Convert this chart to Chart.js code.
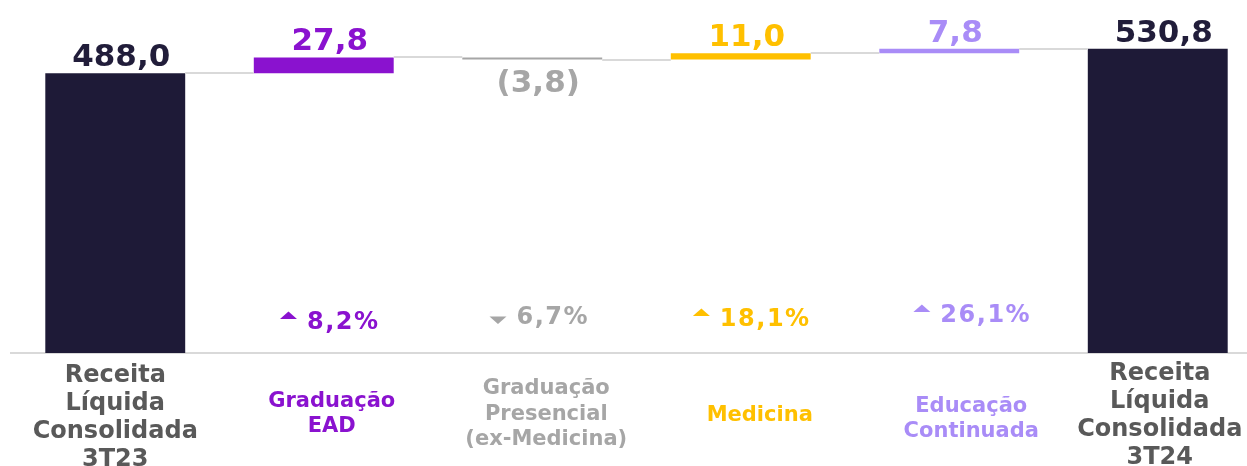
<!DOCTYPE html>
<html>
<head>
<meta charset="utf-8">
<script src="https://cdn.jsdelivr.net/npm/chart.js@4"></script>
<style>
    html, body { margin: 0; padding: 0; background: #fff; overflow: hidden; }
    #wrap { position: relative; width: 1262px; height: 466px; }
</style>
</head>
<body>
<div id="wrap"><canvas id="chart"></canvas></div>
<script>
const categories = [
    ['Receita', 'Líquida', 'Consolidada', '3T23'],
    ['Graduação', 'EAD'],
    ['Graduação', 'Presencial', '(ex-Medicina)'],
    ['Medicina'],
    ['Educação', 'Continuada'],
    ['Receita', 'Líquida', 'Consolidada', '3T24']
];
const changes = [488.0, 27.8, -3.8, 11.0, 7.8, 530.8];
const isTotal = [true, false, false, false, false, true];
const growthPct = [null, 8.2, -6.7, 18.1, 26.1, null];

const NAVY = '#1e1a37';
const barColors = [NAVY, '#8a12cf', '#a6a6a6', '#ffc000', '#a98cf7', NAVY];
const textColors = ['#595959', '#8a12cf', '#a6a6a6', '#ffc000', '#a98cf7', '#595959'];
const FONT = '"DejaVu Sans", Verdana, sans-serif';

// small nudges of the text boxes, like in the original slide
const catDx = [0, 8, 14, 19, 22, 2];
const catDy = [2, -1, -1, 0, 4, 0];
const pctDx = [0, 6, 7, 11, 23, 0];
const pctBase = [0, 329, 324, 326, 322, 0];

// running totals -> floating bars
let running = 0;
const ranges = changes.map(function (v, i) {
    if (isTotal[i]) { running = v; return [0, v]; }
    const start = running;
    running += v;
    return [start, running];
});

const fmt = v => Math.abs(v).toFixed(1).replace('.', ',');

const waterfallText = {
    id: 'waterfallText',
    afterDatasetsDraw(chart) {
        const ctx = chart.ctx;
        const meta = chart.getDatasetMeta(0);
        const y = chart.scales.y;
        ctx.save();

        // connectors between bars
        ctx.strokeStyle = '#d9d9d9';
        ctx.lineWidth = 2;
        for (let i = 0; i < meta.data.length - 1; i++) {
            const a = meta.data[i], b = meta.data[i + 1];
            const py = Math.round(y.getPixelForValue(ranges[i][1]));
            ctx.beginPath();
            ctx.moveTo(a.x + a.width / 2, py);
            ctx.lineTo(b.x - b.width / 2, py);
            ctx.stroke();
        }

        // value labels
        ctx.font = 'bold 31px ' + FONT;
        ctx.textAlign = 'center';
        ctx.textBaseline = 'alphabetic';
        meta.data.forEach(function (bar, i) {
            const v = changes[i];
            const top = y.getPixelForValue(Math.max(ranges[i][0], ranges[i][1]));
            const bottom = y.getPixelForValue(Math.min(ranges[i][0], ranges[i][1]));
            ctx.fillStyle = isTotal[i] ? '#211d3a' : barColors[i];
            if (v < 0) ctx.fillText('(' + fmt(v) + ')', bar.x + 6, bottom + 32);
            else ctx.fillText(fmt(v), bar.x + 6, top - 7);
        });

        // growth percentages with arrows
        ctx.font = 'bold 24px ' + FONT;
        ctx.textAlign = 'left';
        ctx.letterSpacing = '1.5px';
        meta.data.forEach(function (bar, i) {
            const p = growthPct[i];
            if (p === null) return;
            const txt = fmt(p) + '%';
            const w = ctx.measureText(txt).width;
            const groupW = 17 + 10 + w;
            const x0 = bar.x + pctDx[i] - groupW / 2;
            const b = pctBase[i];
            ctx.fillStyle = textColors[i];
            ctx.beginPath();
            if (p >= 0) {
                ctx.moveTo(x0, b - 10);
                ctx.lineTo(x0 + 17, b - 10);
                ctx.lineTo(x0 + 8.5, b - 17.5);
            } else {
                ctx.moveTo(x0, b - 7.6);
                ctx.lineTo(x0 + 17, b - 7.6);
                ctx.lineTo(x0 + 8.5, b);
            }
            ctx.closePath();
            ctx.fill();
            ctx.fillText(txt, x0 + 27, b);
        });
        ctx.letterSpacing = '0px';

        // category labels under the axis
        ctx.textAlign = 'center';
        meta.data.forEach(function (bar, i) {
            const lines = categories[i];
            const fs = isTotal[i] ? 24 : 21;
            const lh = isTotal[i] ? 28 : 25.5;
            ctx.font = 'bold ' + fs + 'px ' + FONT;
            ctx.fillStyle = textColors[i];
            lines.forEach(function (line, j) {
                const capC = 413 + catDy[i] + (j - (lines.length - 1) / 2) * lh;
                ctx.fillText(line, bar.x + catDx[i], capC + 0.365 * fs);
            });
        });

        ctx.restore();
    }
};

new Chart(document.getElementById('chart'), {
    type: 'bar',
    data: {
        labels: categories,
        datasets: [{
            data: ranges,
            backgroundColor: barColors,
            borderWidth: 0,
            barPercentage: 0.671,
            categoryPercentage: 1
        }]
    },
    options: {
        responsive: true,
        maintainAspectRatio: false,
        animation: false,
        layout: { padding: { left: 11, right: 0, top: 0, bottom: 0 } },
        plugins: {
            legend: { display: false },
            tooltip: { enabled: false }
        },
        scales: {
            x: {
                grid: { display: false },
                border: { display: true, color: '#d9d9d9', width: 2 },
                ticks: { display: false },
                afterFit: function (scale) { scale.height = 113; }
            },
            y: {
                display: false,
                min: 0,
                max: 616
            }
        }
    },
    plugins: [waterfallText]
});
</script>
</body>
</html>
